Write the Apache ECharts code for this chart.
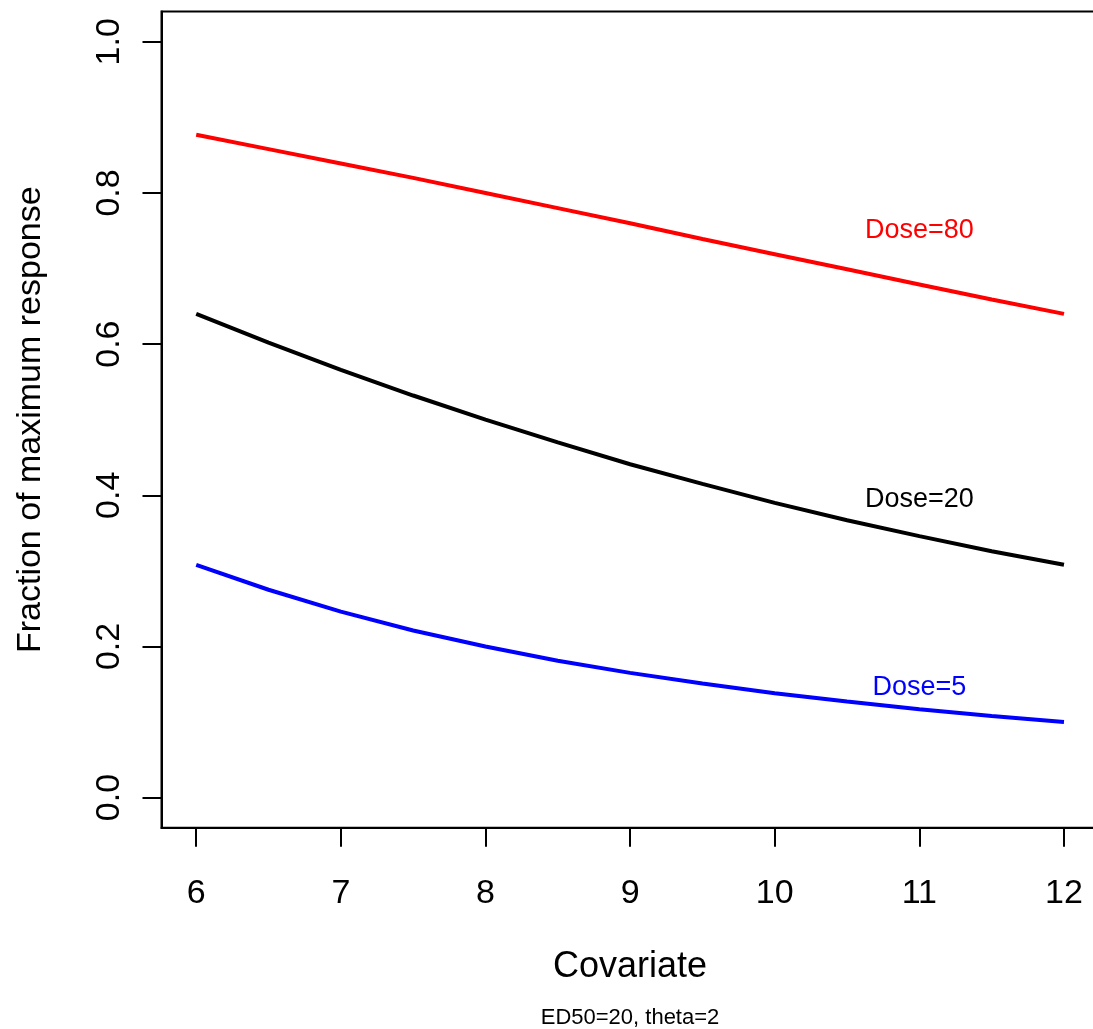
<!DOCTYPE html>
<html>
<head>
<meta charset="utf-8">
<script src="https://cdn.jsdelivr.net/npm/echarts@6/dist/echarts.min.js"></script>
<style>
html,body{margin:0;padding:0;background:#fff;}
#chart{width:1093px;height:1029px;}
</style>
</head>
<body>
<div id="chart"></div>
<script>
// Data
const covariate = [6, 6.5, 7, 7.5, 8, 8.5, 9, 9.5, 10, 10.5, 11, 11.5, 12];
const dose80 = [0.877, 0.858, 0.839, 0.820, 0.800, 0.780, 0.760, 0.739, 0.719, 0.699, 0.679, 0.659, 0.640];
const dose20 = [0.640, 0.602, 0.566, 0.532, 0.500, 0.470, 0.441, 0.415, 0.390, 0.367, 0.346, 0.326, 0.308];
const dose5  = [0.308, 0.275, 0.246, 0.221, 0.200, 0.181, 0.165, 0.151, 0.138, 0.127, 0.117, 0.108, 0.100];
const xTicks = [6, 7, 8, 9, 10, 11, 12];
const yTicks = [0, 0.2, 0.4, 0.6, 0.8, 1.0];
const labelTexts = ['Dose=80', 'Dose=20', 'Dose=5'];
const labelX = [11, 11, 11];
const labelY = [0.75, 0.395, 0.145];
const xTitle = 'Covariate';
const yTitle = 'Fraction of maximum response';
const subTitle = 'ED50=20, theta=2';

const colors = ['#FF0000', '#000000', '#0000FF'];
const FONT = '"Liberation Sans", Arial, Helvetica, sans-serif';

function pairs(xs, ys) { return xs.map((x, i) => [x, ys[i]]); }

const chart = echarts.init(document.getElementById('chart'), null, {renderer: 'canvas'});

const lineSeries = [dose80, dose20, dose5].map((ys, i) => ({
  type: 'line',
  data: pairs(covariate, ys),
  showSymbol: false,
  symbol: 'none',
  smooth: false,
  lineStyle: {color: colors[i], width: 4, opacity: 1},
  silent: true,
  z: 3
}));

const labelSeries = labelTexts.map((t, i) => ({
  type: 'scatter',
  data: [[labelX[i], labelY[i]]],
  symbolSize: 0,
  silent: true,
  itemStyle: {opacity: 1, color: colors[i]},
  label: {
    show: true,
    position: 'inside',
    formatter: t,
    color: colors[i],
    opacity: 1,
    fontSize: 27,
    fontFamily: FONT
  },
  z: 4
}));

chart.setOption({
  animation: false,
  backgroundColor: '#ffffff',
  grid: {
    show: true,
    left: 161.5,
    top: 11.6,
    right: -5.7,
    bottom: 201.2,
    borderColor: '#000',
    borderWidth: 2,
    containLabel: false,
    outerBoundsMode: 'none'
  },
  xAxis: {
    type: 'value',
    min: 5.76,
    max: 12.24,
    name: xTitle,
    nameLocation: 'middle',
    nameGap: 121.5,
    nameTextStyle: {fontSize: 36, color: '#000', fontFamily: FONT},
    axisLine: {show: true, onZero: false, lineStyle: {color: '#000', width: 2}},
    axisTick: {show: true, inside: false, length: 19, lineStyle: {color: '#000', width: 2}, customValues: xTicks},
    axisLabel: {show: true, margin: 49, fontSize: 34, color: '#000', fontFamily: FONT, customValues: xTicks, formatter: v => String(v)},
    splitLine: {show: false}
  },
  yAxis: {
    type: 'value',
    min: -0.04,
    max: 1.04,
    name: yTitle,
    nameLocation: 'middle',
    nameGap: 114,
    nameTextStyle: {fontSize: 34, color: '#000', fontFamily: FONT},
    axisLine: {show: true, onZero: false, lineStyle: {color: '#000', width: 2}},
    axisTick: {show: true, inside: false, length: 19, lineStyle: {color: '#000', width: 2}, customValues: yTicks},
    axisLabel: {show: true, rotate: 90, margin: 34.5, fontSize: 34, color: '#000', fontFamily: FONT, customValues: yTicks, formatter: v => v.toFixed(1)},
    splitLine: {show: false}
  },
  graphic: [{
    type: 'text',
    style: {
      x: 630,
      y: 1018,
      text: subTitle,
      textAlign: 'center',
      textVerticalAlign: 'middle',
      fontSize: 22,
      fontFamily: FONT,
      fill: '#000'
    }
  }],
  series: lineSeries.concat(labelSeries)
});
</script>
</body>
</html>
